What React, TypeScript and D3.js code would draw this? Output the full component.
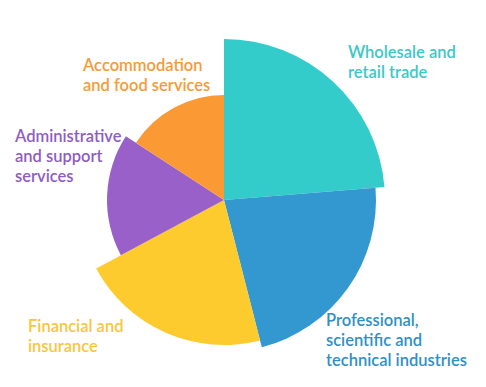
import * as d3 from "d3";

const WIDTH = 486;
const HEIGHT = 387;
const CX = 224;
const CY = 200;
const MAX_R = 161;

// slice share (drives the angle) and magnitude (drives the radius)
const categories = [
  "Wholesale and retail trade",
  "Professional, scientific and technical industries",
  "Financial and insurance",
  "Administrative and support services",
  "Accommodation and food services",
];
const shares = [85.4, 80.2, 76.2, 61.2, 57];
const magnitudes = [161, 152, 145, 117, 105];
const colors = ["#34cccb", "#3398d0", "#fdcb2d", "#9a60c9", "#fb9a34"];

const labelLines = [
  ["Wholesale and", "retail trade"],
  ["Professional,", "scientific and", "technical industries"],
  ["Financial and", "insurance"],
  ["Administrative", "and support", "services"],
  ["Accommodation", "and food services"],
];
const labelColors = ["#3cc8c6", "#2f8fc6", "#f8c63a", "#8f5cc4", "#f79a36"];

// label anchor (left x, first baseline y) in page coords
const LABEL_POS: [number, number][] = [
  [348, 58],
  [326, 326],
  [28, 332],
  [15, 142],
  [83, 71],
];

export default function App() {
  const pie = d3
    .pie<number>()
    .sort(null)
    .value((d) => d);
  const arcs = pie(shares);

  const rScale = d3
    .scaleLinear()
    .domain([0, d3.max(magnitudes) ?? 1])
    .range([0, MAX_R]);

  const arcGen = d3.arc<any>().innerRadius(0);

  return (
    <svg
      width={WIDTH}
      height={HEIGHT}
      style={{ position: "absolute", left: 0, top: 0, background: "#fff" }}
      fontFamily="Lato, 'Open Sans', sans-serif"
    >
      <g transform={`translate(${CX},${CY})`}>
        {arcs.map((a, i) => (
          <path
            key={categories[i]}
            d={arcGen({ ...a, outerRadius: rScale(magnitudes[i]) }) ?? ""}
            fill={colors[i]}
          />
        ))}
      </g>
      <g>
        {labelLines.map((lines, i) => (
          <text
            key={categories[i]}
            x={LABEL_POS[i][0]}
            y={LABEL_POS[i][1]}
            fill={labelColors[i]}
            fontSize={16.5}
            fontWeight={600}
          >
            {lines.map((l, j) => (
              <tspan key={j} x={LABEL_POS[i][0]} dy={j === 0 ? 0 : 20}>
                {l}
              </tspan>
            ))}
          </text>
        ))}
      </g>
    </svg>
  );
}
